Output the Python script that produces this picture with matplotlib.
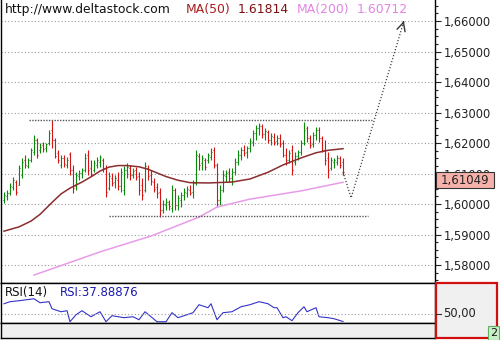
import matplotlib.pyplot as plt
from matplotlib.patches import Rectangle
from matplotlib.ticker import MultipleLocator

# OHLC bars (one per session)
opens = [1.6013, 1.6026, 1.6036, 1.6056, 1.6072, 1.6062, 1.6095, 1.6144, 1.6125, 1.6144,
         1.6170, 1.6210, 1.6177, 1.6193, 1.6184, 1.6200, 1.6243, 1.6210, 1.6167, 1.6128,
         1.6151, 1.6128, 1.6164, 1.6111, 1.6059, 1.6092, 1.6102, 1.6111, 1.6161, 1.6118,
         1.6111, 1.6128, 1.6138, 1.6144, 1.6118, 1.6052, 1.6085, 1.6072, 1.6079, 1.6059,
         1.6046, 1.6111, 1.6118, 1.6095, 1.6111, 1.6092, 1.6062, 1.6046, 1.6118, 1.6095,
         1.6072, 1.6056, 1.6039, 1.5980, 1.5997, 1.6007, 1.5987, 1.6046, 1.5997, 1.6013,
         1.6030, 1.6036, 1.6046, 1.6039, 1.6069, 1.6157, 1.6134, 1.6144, 1.6144, 1.6154,
         1.6177, 1.6128, 1.6013, 1.6046, 1.6092, 1.6105, 1.6085, 1.6105, 1.6138, 1.6161,
         1.6177, 1.6170, 1.6184, 1.6203, 1.6233, 1.6249, 1.6256, 1.6229, 1.6236, 1.6210,
         1.6220, 1.6207, 1.6216, 1.6200, 1.6161, 1.6144, 1.6177, 1.6138, 1.6157, 1.6170,
         1.6200, 1.6249, 1.6216, 1.6197, 1.6226, 1.6243, 1.6216, 1.6177, 1.6151, 1.6118,
         1.6138, 1.6138, 1.6151, 1.6138]
highs = [1.6039, 1.6046, 1.6069, 1.6089, 1.6079, 1.6128, 1.6151, 1.6161, 1.6151, 1.6184,
         1.6226, 1.6216, 1.6200, 1.6203, 1.6200, 1.6243, 1.6275, 1.6216, 1.6177, 1.6161,
         1.6161, 1.6154, 1.6170, 1.6128, 1.6105, 1.6111, 1.6118, 1.6167, 1.6177, 1.6144,
         1.6144, 1.6154, 1.6161, 1.6151, 1.6128, 1.6105, 1.6102, 1.6095, 1.6105, 1.6118,
         1.6125, 1.6134, 1.6128, 1.6118, 1.6121, 1.6105, 1.6085, 1.6138, 1.6128, 1.6111,
         1.6085, 1.6069, 1.6052, 1.6013, 1.6020, 1.6013, 1.6062, 1.6052, 1.6030, 1.6039,
         1.6052, 1.6059, 1.6062, 1.6079, 1.6177, 1.6167, 1.6161, 1.6151, 1.6167, 1.6184,
         1.6187, 1.6134, 1.6062, 1.6111, 1.6111, 1.6118, 1.6118, 1.6151, 1.6177, 1.6187,
         1.6193, 1.6190, 1.6216, 1.6243, 1.6259, 1.6266, 1.6262, 1.6249, 1.6243, 1.6233,
         1.6233, 1.6226, 1.6229, 1.6210, 1.6184, 1.6177, 1.6193, 1.6170, 1.6177, 1.6210,
         1.6269, 1.6256, 1.6226, 1.6236, 1.6252, 1.6252, 1.6223, 1.6210, 1.6170, 1.6154,
         1.6151, 1.6161, 1.6157, 1.6151]
lows = [1.6003, 1.6013, 1.6030, 1.6046, 1.6030, 1.6062, 1.6085, 1.6118, 1.6118, 1.6138,
        1.6161, 1.6151, 1.6167, 1.6170, 1.6170, 1.6193, 1.6184, 1.6151, 1.6134, 1.6118,
        1.6121, 1.6118, 1.6095, 1.6036, 1.6046, 1.6079, 1.6085, 1.6105, 1.6095, 1.6092,
        1.6105, 1.6118, 1.6121, 1.6105, 1.6023, 1.6046, 1.6059, 1.6052, 1.6046, 1.6039,
        1.6030, 1.6085, 1.6079, 1.6085, 1.6079, 1.6030, 1.6013, 1.6039, 1.6079, 1.6062,
        1.6039, 1.6020, 1.5957, 1.5970, 1.5980, 1.5980, 1.5974, 1.5980, 1.5980, 1.5990,
        1.6013, 1.6023, 1.6030, 1.6020, 1.6062, 1.6111, 1.6111, 1.6111, 1.6134, 1.6144,
        1.6118, 1.5990, 1.5997, 1.6039, 1.6072, 1.6072, 1.6062, 1.6095, 1.6128, 1.6144,
        1.6157, 1.6151, 1.6170, 1.6190, 1.6210, 1.6226, 1.6216, 1.6210, 1.6200, 1.6193,
        1.6193, 1.6193, 1.6187, 1.6154, 1.6128, 1.6134, 1.6095, 1.6128, 1.6144, 1.6161,
        1.6193, 1.6203, 1.6184, 1.6187, 1.6210, 1.6203, 1.6170, 1.6128, 1.6085, 1.6111,
        1.6118, 1.6128, 1.6118, 1.6095]
closes = [1.6030, 1.6036, 1.6059, 1.6079, 1.6039, 1.6118, 1.6138, 1.6128, 1.6144, 1.6177,
          1.6210, 1.6161, 1.6187, 1.6180, 1.6197, 1.6233, 1.6210, 1.6157, 1.6144, 1.6151,
          1.6131, 1.6144, 1.6111, 1.6052, 1.6095, 1.6102, 1.6111, 1.6151, 1.6111, 1.6098,
          1.6134, 1.6144, 1.6154, 1.6118, 1.6039, 1.6092, 1.6069, 1.6085, 1.6059, 1.6105,
          1.6111, 1.6121, 1.6095, 1.6108, 1.6089, 1.6046, 1.6030, 1.6125, 1.6092, 1.6075,
          1.6049, 1.6036, 1.5980, 1.6000, 1.6007, 1.5993, 1.6046, 1.5997, 1.6020, 1.6030,
          1.6039, 1.6049, 1.6036, 1.6069, 1.6161, 1.6128, 1.6151, 1.6121, 1.6161, 1.6170,
          1.6128, 1.6013, 1.6046, 1.6095, 1.6102, 1.6085, 1.6105, 1.6138, 1.6161, 1.6177,
          1.6167, 1.6184, 1.6207, 1.6233, 1.6249, 1.6256, 1.6229, 1.6239, 1.6210, 1.6223,
          1.6203, 1.6216, 1.6197, 1.6161, 1.6144, 1.6167, 1.6111, 1.6157, 1.6170, 1.6200,
          1.6243, 1.6216, 1.6193, 1.6226, 1.6243, 1.6216, 1.6177, 1.6144, 1.6111, 1.6144,
          1.6144, 1.6151, 1.6128, 1.61049]

# moving averages, read at a few bars
ma50_idx = [0, 5, 9, 12, 16, 19, 22, 26, 29, 32, 35, 38, 41, 45, 48, 51, 54, 58, 62, 68,
            76, 82, 88, 93, 99, 104, 108, 113]
ma50_val = [1.5911, 1.5925, 1.5944, 1.5966, 1.6005, 1.6033, 1.6052, 1.6072, 1.6089, 1.6108,
            1.6121, 1.6126, 1.6126, 1.6122, 1.6114, 1.6102, 1.6090, 1.6078, 1.6070, 1.6069,
            1.6072, 1.6082, 1.6104, 1.6128, 1.6151, 1.6168, 1.6176, 1.61814]
ma200_idx = [10, 32, 49, 65, 71, 82, 99, 113]
ma200_val = [1.5767, 1.5843, 1.5895, 1.5957, 1.5990, 1.6016, 1.6043, 1.60712]

# RSI(14)
rsi_idx = [0, 2, 5, 10, 12, 15, 16, 19, 21, 22, 24, 26, 29, 32, 34, 36, 40, 43, 45, 47,
           49, 51, 54, 56, 58, 61, 63, 65, 68, 69, 71, 73, 76, 79, 82, 85, 88, 90, 91, 93,
           94, 96, 98, 100, 101, 104, 105, 108, 110, 113]
rsi_val = [65.6, 68.8, 70.3, 73.4, 67.2, 68.8, 57.8, 53.1, 54.7, 37.5, 48.4, 54.7, 45.3, 53.1,
           37.5, 46.9, 43.8, 45.3, 40.6, 53.1, 45.3, 37.5, 37.5, 51.6, 43.8, 48.4, 51.6, 64.1,
           59.4, 65.6, 40.6, 51.6, 53.1, 60.9, 64.1, 68.8, 65.6, 59.4, 59.4, 43.8, 45.3, 39.1,
           51.6, 60.9, 53.1, 59.4, 45.3, 43.8, 42.2, 37.9]

# support / resistance and projected move
resistance = 1.6275
support = 1.5961
proj_idx = [113, 115.7, 133.3]
proj_val = [1.61049, 1.6020, 1.6600]

price_ticks = [1.58, 1.59, 1.60, 1.61, 1.62, 1.63, 1.64, 1.65, 1.66]

W, H = 500, 340


def box(x0, y0, x1, y1):
    # pixel box (top-left origin) -> figure coords
    return [x0 / W, 1 - y1 / H, (x1 - x0) / W, (y1 - y0) / H]


plt.rcParams['font.family'] = 'DejaVu Sans'
fig = plt.figure(figsize=(5, 3.4), dpi=100)
fig.patch.set_facecolor('white')

green = '#0A8A0A'
red = '#D41515'

# ---- main price panel ----
ax = fig.add_axes(box(1, 0, 435, 283))
xlim = (-1, 143.67)
ax.set_xlim(*xlim)
ax.set_ylim(1.5741, 1.666885)

for i in range(len(closes)):
    c = green if closes[i] >= opens[i] else red
    ax.vlines(i, lows[i], highs[i], color=c, lw=0.8)
    ax.hlines(opens[i], i - 0.4, i, color=c, lw=0.8)
    ax.hlines(closes[i], i, i + 0.4, color=c, lw=0.8)

ax.plot(ma50_idx, ma50_val, color='#8B2E2E', lw=1.1)
ax.plot(ma200_idx, ma200_val, color='#E89BE8', lw=1.1)

ax.hlines(resistance, 8.3, 122.7, color='#555555', lw=1, linestyle=(0, (1, 1)))
ax.hlines(support, 35, 121.3, color='#555555', lw=1, linestyle=(0, (1, 1)))

ax.plot(proj_idx, proj_val, color='#444444', lw=0.9, linestyle=(0, (1, 1.5)))
ax.annotate('', xy=(proj_idx[-1], proj_val[-1]), xytext=(proj_idx[-1] - 0.4, proj_val[-1] - 0.0013),
            arrowprops=dict(arrowstyle='->,head_length=0.6,head_width=0.3', color='#333333', lw=1))

ax.set_yticks(price_ticks)
ax.set_yticklabels([f"{v:.5f}".replace('.', ',') for v in price_ticks])
ax.yaxis.set_minor_locator(MultipleLocator(0.0025))
ax.yaxis.tick_right()
ax.tick_params(axis='y', which='major', length=4, width=0.8, pad=2, labelsize=8.3, colors='#222222')
ax.tick_params(axis='y', which='minor', length=2.5, width=0.8, colors='#222222')
ax.set_xticks([])
ax.grid(axis='y', color='#9A9A9A', lw=0.8, linestyle=(0, (1, 2)))
for s in ['left', 'right', 'bottom']:
    ax.spines[s].set_color('black')
    ax.spines[s].set_linewidth(1)
ax.spines['top'].set_visible(False)

# header texts
fig.text(5 / W, 1 - 3 / H, "http://www.deltastock.com", fontsize=8.9, va='top', color='#111111')
fig.text(186 / W, 1 - 3 / H, "MA(50)", fontsize=8.9, va='top', color='#A81C1C')
fig.text(238 / W, 1 - 3 / H, "1.61814", fontsize=8.9, va='top', color='#7E1010')
fig.text(297 / W, 1 - 3 / H, "MA(200)", fontsize=8.9, va='top', color='#E484E4')
fig.text(357 / W, 1 - 3 / H, "1.60712", fontsize=8.9, va='top', color='#E484E4')

# last price label
fig.patches.append(Rectangle((436 / W, 1 - 188 / H), 58 / W, 16 / H, transform=fig.transFigure,
                             fc='#F6B2AA', ec='#333333', lw=0.8, zorder=5))
fig.text(465 / W, 1 - 180.5 / H, "1,61049", fontsize=8.5, ha='center', va='center',
         color='#222222', zorder=6)

# ---- RSI panel ----
ax2 = fig.add_axes(box(1, 283, 435, 323))
ax2.set_xlim(*xlim)
ax2.set_ylim(35.5, 98)
ax2.plot(rsi_idx, rsi_val, color='#3434C8', lw=0.8)
ax2.axhline(50, color='#9A9A9A', lw=0.8, linestyle=(0, (1, 2)))
ax2.set_xticks([])
ax2.set_yticks([])
for s in ax2.spines.values():
    s.set_color('black')
    s.set_linewidth(1)
fig.text(5 / W, 1 - 286 / H, "RSI(14)", fontsize=8.5, va='top', color='#111111')
fig.text(60 / W, 1 - 286 / H, "RSI:37.88876", fontsize=8.5, va='top', color='#1A1AB0')

# bottom strip
ax3 = fig.add_axes(box(1, 323, 435, 338))
ax3.set_facecolor('#F0F0F0')
ax3.set_xticks([])
ax3.set_yticks([])
for s in ax3.spines.values():
    s.set_color('black')
    s.set_linewidth(1)

# right RSI scale box
fig.patches.append(Rectangle((436 / W, 1 - 338 / H), 61 / W, 55 / H, transform=fig.transFigure,
                             fc='#F0F0F0', ec='#D01010', lw=1.6, zorder=3))
fig.lines.append(plt.Line2D([436 / W, 441 / W], [1 - 314 / H, 1 - 314 / H],
                            transform=fig.transFigure, color='#333333', lw=0.8, zorder=4))
fig.text(443 / W, 1 - 314 / H, "50,00", fontsize=8.3, va='center', color='#222222', zorder=4)

# small green tag
fig.patches.append(Rectangle((488 / W, 1 - 340 / H), 11 / W, 14 / H, transform=fig.transFigure,
                             fc='#C8F0C8', ec='#60B060', lw=0.8, zorder=5))
fig.text(493.5 / W, 1 - 333 / H, "2", fontsize=8, ha='center', va='center', color='#111111', zorder=6)

plt.savefig('out.png', dpi=100)
